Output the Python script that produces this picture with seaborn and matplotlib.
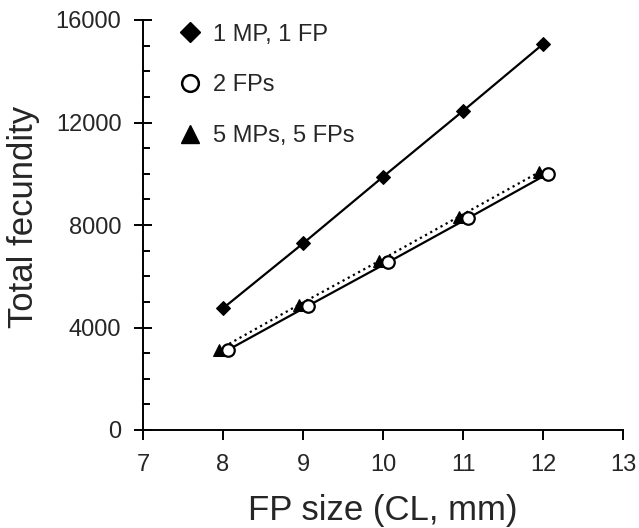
import matplotlib
matplotlib.use("Agg")
import matplotlib.pyplot as plt
from matplotlib.lines import Line2D
from matplotlib.ticker import MultipleLocator
import seaborn as sns

# data
x_mp1 = [8, 9, 10, 11, 12]
y_mp1 = [4750, 7280, 9880, 12450, 15060]
x_fp2 = [8.06, 9.06, 10.06, 11.06, 12.06]
y_fp2 = [3120, 4840, 6540, 8260, 10000]
x_mp5 = [7.95, 8.95, 9.95, 10.95, 11.95]
y_mp5 = [3140, 4890, 6590, 8330, 10060]
labels = ["1 MP, 1 FP", "2 FPs", "5 MPs, 5 FPs"]
xticks = [7, 8, 9, 10, 11, 12, 13]
yticks = [0, 4000, 8000, 12000, 16000]

sns.set_style("white")
plt.rcParams['font.family'] = ['Liberation Sans', 'DejaVu Sans']

fig = plt.figure(figsize=(6.39, 5.28), dpi=100)
ax = fig.add_axes([143/639, (528-430)/528, (623-143)/639, (430-20)/528])

sns.lineplot(x=x_mp1, y=y_mp1, ax=ax, color='black', lw=1.6, marker='D',
             markersize=7, markerfacecolor='black', markeredgecolor='black')
sns.lineplot(x=x_mp5, y=y_mp5, ax=ax, color='black', lw=1.6, linestyle=':',
             marker='^', markersize=8.5, markerfacecolor='black', markeredgecolor='black')
sns.lineplot(x=x_fp2, y=y_fp2, ax=ax, color='black', lw=1.6, marker='o',
             markersize=9, markerfacecolor='white', markeredgecolor='black',
             markeredgewidth=1.6)

ax.set_xlim(7, 13)
ax.set_ylim(0, 16000)
ax.set_xticks(xticks)
ax.set_yticks(yticks)
ax.yaxis.set_minor_locator(MultipleLocator(1000))
ax.tick_params(axis='x', which='major', direction='out', length=7, width=1.4,
               labelsize=17, pad=10, bottom=True, color='black')
ax.tick_params(axis='y', which='major', direction='inout', length=13, width=1.4,
               labelsize=17, pad=9, left=True, color='black')
ax.tick_params(axis='y', which='minor', direction='in', length=5, width=1.4,
               left=True, color='black')
for s in ['top', 'right']:
    ax.spines[s].set_visible(False)
for s in ['left', 'bottom']:
    ax.spines[s].set_color('black')
    ax.spines[s].set_linewidth(1.4)

ax.set_xlabel("FP size (CL, mm)", fontsize=25, labelpad=13)
ax.set_ylabel("Total fecundity", fontsize=25)
ax.yaxis.set_label_coords(-0.215, 0.52)

handles = [
    Line2D([], [], color='black', marker='D', linestyle='none', markersize=10.5),
    Line2D([], [], color='black', marker='o', linestyle='none', markersize=12,
           markerfacecolor='white', markeredgewidth=1.8),
    Line2D([], [], color='black', marker='^', linestyle='none', markersize=13),
]
ax.legend(handles, labels, loc='upper left', bbox_to_anchor=(0.025, 1.043),
          frameon=False, fontsize=17, labelspacing=1.22, handletextpad=0.35,
          handlelength=1.2)

fig.savefig("out.png", dpi=100, facecolor='white')
